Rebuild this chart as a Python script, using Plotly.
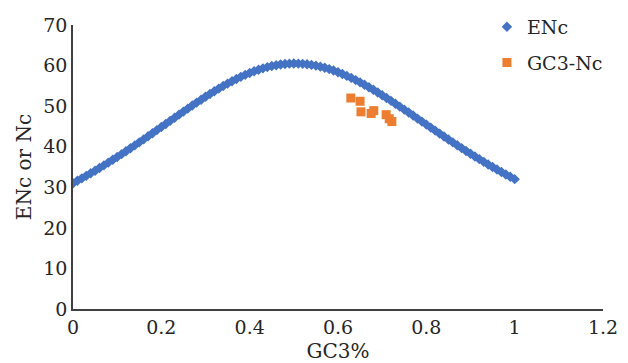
import plotly.graph_objects as go

# ENc expected curve
gc3_curve = [0.00, 0.01, 0.02, 0.03, 0.04, 0.05, 0.06, 0.07, 0.08, 0.09,
             0.10, 0.11, 0.12, 0.13, 0.14, 0.15, 0.16, 0.17, 0.18, 0.19,
             0.20, 0.21, 0.22, 0.23, 0.24, 0.25, 0.26, 0.27, 0.28, 0.29,
             0.30, 0.31, 0.32, 0.33, 0.34, 0.35, 0.36, 0.37, 0.38, 0.39,
             0.40, 0.41, 0.42, 0.43, 0.44, 0.45, 0.46, 0.47, 0.48, 0.49,
             0.50, 0.51, 0.52, 0.53, 0.54, 0.55, 0.56, 0.57, 0.58, 0.59,
             0.60, 0.61, 0.62, 0.63, 0.64, 0.65, 0.66, 0.67, 0.68, 0.69,
             0.70, 0.71, 0.72, 0.73, 0.74, 0.75, 0.76, 0.77, 0.78, 0.79,
             0.80, 0.81, 0.82, 0.83, 0.84, 0.85, 0.86, 0.87, 0.88, 0.89,
             0.90, 0.91, 0.92, 0.93, 0.94, 0.95, 0.96, 0.97, 0.98, 0.99, 1.00]
enc_curve = [31.00, 31.60, 32.20, 32.82, 33.45, 34.09, 34.75, 35.41, 36.09, 36.77,
             37.47, 38.17, 38.89, 39.61, 40.34, 41.08, 41.82, 42.57, 43.33, 44.09,
             44.85, 45.61, 46.37, 47.14, 47.90, 48.65, 49.40, 50.14, 50.87, 51.59,
             52.30, 52.99, 53.67, 54.32, 54.95, 55.56, 56.14, 56.70, 57.22, 57.71,
             58.17, 58.59, 58.97, 59.32, 59.62, 59.88, 60.09, 60.26, 60.39, 60.47,
             60.50, 60.49, 60.43, 60.32, 60.17, 59.98, 59.74, 59.46, 59.13, 58.77,
             58.37, 57.93, 57.46, 56.96, 56.42, 55.86, 55.27, 54.66, 54.03, 53.37,
             52.70, 52.01, 51.31, 50.60, 49.88, 49.15, 48.42, 47.68, 46.93, 46.19,
             45.45, 44.71, 43.97, 43.23, 42.50, 41.78, 41.06, 40.35, 39.65, 38.95,
             38.27, 37.59, 36.93, 36.27, 35.63, 34.99, 34.37, 33.76, 33.16, 32.58, 32.00]

# Observed genes
gc3_obs = [0.629, 0.650, 0.652, 0.675, 0.681, 0.709, 0.716, 0.722]
nc_obs = [52.0, 51.2, 48.6, 48.2, 48.9, 47.9, 46.9, 46.2]

x_ticks = [0, 0.2, 0.4, 0.6, 0.8, 1, 1.2]
x_tick_labels = ["0", "0.2", "0.4", "0.6", "0.8", "1", "1.2"]
y_ticks = [0, 10, 20, 30, 40, 50, 60, 70]

FONT = "DejaVu Serif"

fig = go.Figure()
fig.add_trace(go.Scatter(
    x=gc3_curve, y=enc_curve, mode="markers", name="ENc", legendgroup="a",
    marker=dict(symbol="diamond", size=8, color="#4472C4"),
))
fig.add_trace(go.Scatter(
    x=gc3_obs, y=nc_obs, mode="markers", name="GC3-Nc", legendgroup="b",
    marker=dict(symbol="square", size=9, color="#ED7D31"),
))

fig.update_layout(
    width=628, height=363,
    margin=dict(l=73, r=25, t=25, b=54, autoexpand=False),
    paper_bgcolor="white", plot_bgcolor="white",
    font=dict(family=FONT, size=19, color="#262626"),
    showlegend=True,
    legend=dict(x=0.781, y=1.06, xanchor="left", yanchor="top",
                traceorder="grouped", tracegroupgap=8,
                font=dict(family=FONT, size=19, color="#262626"),
                bgcolor="rgba(0,0,0,0)"),
    xaxis=dict(range=[0, 1.2], tickvals=x_ticks, ticktext=x_tick_labels,
               showgrid=False, zeroline=False, showline=True,
               linecolor="#404040", linewidth=1.5, ticks="",
               ticklabelstandoff=0, automargin=False,
               title=dict(text="GC3%", standoff=12, font=dict(size=20))),
    yaxis=dict(range=[0, 70], tickvals=y_ticks,
               showgrid=False, zeroline=False, showline=True,
               linecolor="#404040", linewidth=1.5, ticks="",
               ticklabelstandoff=0, automargin=False,
               title=dict(text="ENc or Nc", standoff=6, font=dict(size=20))),
)

fig.write_html("out.html", config={"displayModeBar": False},
               post_script="document.body.style.margin='0';")
